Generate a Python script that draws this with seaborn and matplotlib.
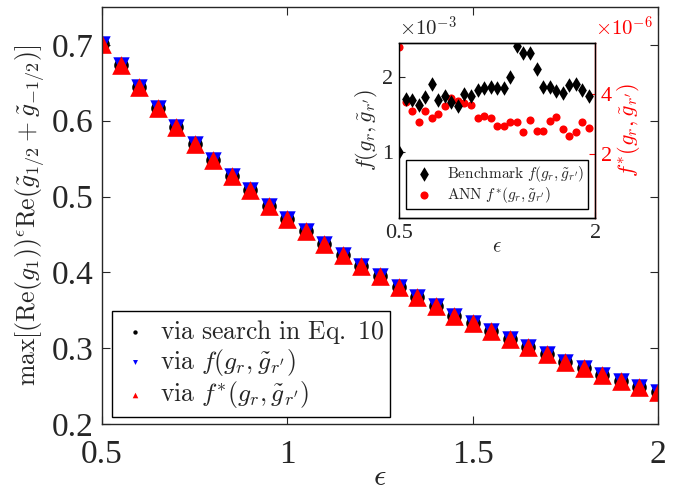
import numpy as np
import pandas as pd
import matplotlib
matplotlib.use("Agg")
import matplotlib.pyplot as plt
import seaborn as sns

# --- main panel: maximum value vs epsilon (three methods give the same curve)
eps = [0.50, 0.55, 0.60, 0.65, 0.70, 0.75, 0.80, 0.85, 0.90, 0.95, 1.00,
       1.05, 1.10, 1.15, 1.20, 1.25, 1.30, 1.35, 1.40, 1.45, 1.50, 1.55,
       1.60, 1.65, 1.70, 1.75, 1.80, 1.85, 1.90, 1.95, 2.00]
max_search = [0.701, 0.673, 0.645, 0.617, 0.592, 0.569, 0.548, 0.527, 0.508,
              0.488, 0.471, 0.455, 0.438, 0.423, 0.409, 0.395, 0.381, 0.368,
              0.356, 0.343, 0.333, 0.323, 0.312, 0.302, 0.292, 0.282, 0.274,
              0.265, 0.257, 0.249, 0.242]
max_f = max_search
max_fstar = max_search

# --- inset: objective values (benchmark in units of 1e-3, ANN in units of 1e-6)
eps_in = eps[:30]
bench_f = [1.00, 1.705, 1.69, 1.62, 1.735, 1.90, 1.69, 1.75, 1.67, 1.61,
           1.77, 1.745, 1.83, 1.855, 1.87, 1.855, 1.855, 1.99, 2.40, 2.32,
           2.32, 2.10, 1.86, 1.86, 1.815, 1.79, 1.89, 1.91, 1.82, 1.75]
ann_f = [5.58, 3.72, 3.44, 3.08, 3.43, 3.19, 3.33, 3.60, 3.86, 3.78,
         3.71, 3.63, 3.19, 3.28, 3.19, 2.93, 2.93, 3.06, 3.06, 2.74,
         3.13, 2.76, 2.76, 3.10, 3.24, 2.83, 2.60, 2.75, 3.08, 2.86]

main_df = pd.DataFrame({"eps": eps, "search": max_search, "f": max_f, "fstar": max_fstar})
inset_df = pd.DataFrame({"eps": eps_in, "bench": bench_f, "ann": ann_f})

sns.set_style("ticks")
plt.rcParams["font.family"] = ["Liberation Serif", "DejaVu Serif"]
plt.rcParams["mathtext.fontset"] = "cm"
plt.rcParams["axes.linewidth"] = 1.0

fig = plt.figure(figsize=(6.82, 4.95), dpi=100)
ax = fig.add_axes([0.1496, 0.1435, 0.8152, 0.8424])

sns.scatterplot(data=main_df, x="eps", y="search", ax=ax, color="black",
                marker="o", s=110, linewidth=0, label=r"$\mathrm{via\ search\ in\ Eq.\ 10}$")
sns.scatterplot(data=main_df, x="eps", y="f", ax=ax, color="blue",
                marker="v", s=140, linewidth=0, label=r"$\mathrm{via}\ f(g_r,\tilde{g}_{r'})$")
sns.scatterplot(data=main_df, x="eps", y="fstar", ax=ax, color="red",
                marker="^", s=180, linewidth=0, label=r"$\mathrm{via}\ f^{*}(g_r,\tilde{g}_{r'})$")

ax.set_xlim(0.5, 2.0)
ax.set_ylim(0.2, 0.75)
ax.set_xticks([0.5, 1, 1.5, 2])
ax.set_xticklabels(["0.5", "1", "1.5", "2"])
ax.set_yticks([0.2, 0.3, 0.4, 0.5, 0.6, 0.7])
ax.set_yticklabels(["0.2", "0.3", "0.4", "0.5", "0.6", "0.7"])
ax.tick_params(direction="in", length=6, top=True, right=True, labelsize=24,
               colors="#262626")
ax.tick_params(axis="x", pad=11)
ax.tick_params(axis="y", pad=6)
for s in ax.spines.values():
    s.set_visible(True)
    s.set_color("#262626")
ax.set_xlabel(r"$\epsilon$", fontsize=22, labelpad=-5)
ax.set_ylabel(r"$\max[(\mathrm{Re}(g_1))^{\epsilon}\mathrm{Re}(\tilde{g}_{1/2}+\tilde{g}_{-1/2})]$",
              fontsize=18.5, labelpad=3)
leg = ax.legend(loc="lower left", bbox_to_anchor=(0.018, 0.017), borderaxespad=0,
                fontsize=18.5, markerscale=0.3, fancybox=False, framealpha=1,
                edgecolor="black", handletextpad=0.3, handlelength=1.3,
                labelspacing=0.05, borderpad=0.25)
leg.get_frame().set_linewidth(1.0)

# --- inset
axi = fig.add_axes([0.585, 0.5596, 0.2881, 0.3541])
axr = axi.twinx()
sns.scatterplot(data=inset_df, x="eps", y="bench", ax=axi, color="black",
                marker="d", s=55, linewidth=0, label=r"$\mathrm{Benchmark}\ f(g_r,\tilde{g}_{r'})$",
                legend=False, zorder=3)
sns.scatterplot(data=inset_df, x="eps", y="ann", ax=axr, color="red",
                marker="o", s=34, linewidth=0, label=r"$\mathrm{ANN}\ f^{*}(g_r,\tilde{g}_{r'})$",
                legend=False, zorder=2)
axi.set_zorder(axr.get_zorder() + 1)
axi.patch.set_visible(False)

axi.set_xlim(0.5, 2.0)
axi.set_ylim(0.13, 2.45)
axr.set_ylim(-0.13, 5.71)
axi.set_xticks([0.5, 2])
axi.set_xticklabels(["0.5", "2"])
axi.set_yticks([1, 2])
axi.set_yticklabels(["1", "2"])
axr.set_yticks([2, 4])
axr.set_yticklabels(["2", "4"])
axi.tick_params(direction="in", length=4, labelsize=16, top=False, pad=4)
axr.tick_params(direction="in", length=4, labelsize=16, colors="red", pad=4)
for s in axi.spines.values():
    s.set_visible(True)
    s.set_color("black")
axr.spines["right"].set_color("red")
axr.spines["left"].set_visible(False)
axi.set_xlabel(r"$\epsilon$", fontsize=15, labelpad=-3)
axi.set_ylabel(r"$f(g_r,\tilde{g}_{r'})$", fontsize=16, labelpad=2)
axr.set_ylabel(r"$f^{*}(g_r,\tilde{g}_{r'})$", fontsize=16, color="red", labelpad=2)
axi.text(0.0, 1.01, r"$\times\mathrm{10}^{-3}$", transform=axi.transAxes,
         fontsize=15, ha="left", va="bottom")
axr.text(1.0, 1.01, r"$\times\mathrm{10}^{-6}$", transform=axr.transAxes,
         fontsize=15, ha="left", va="bottom", color="red")

h1, l1 = axi.get_legend_handles_labels()
h2, l2 = axr.get_legend_handles_labels()
legi = axi.legend(h1 + h2, l1 + l2, loc="lower left", bbox_to_anchor=(0.036, 0.051),
                  borderaxespad=0, fontsize=11, fancybox=False, framealpha=1,
                  edgecolor="black", handletextpad=0.6, handlelength=1.8,
                  labelspacing=0.1, borderpad=0.25)
legi.get_frame().set_linewidth(1.0)

fig.savefig("out.png", dpi=100)
